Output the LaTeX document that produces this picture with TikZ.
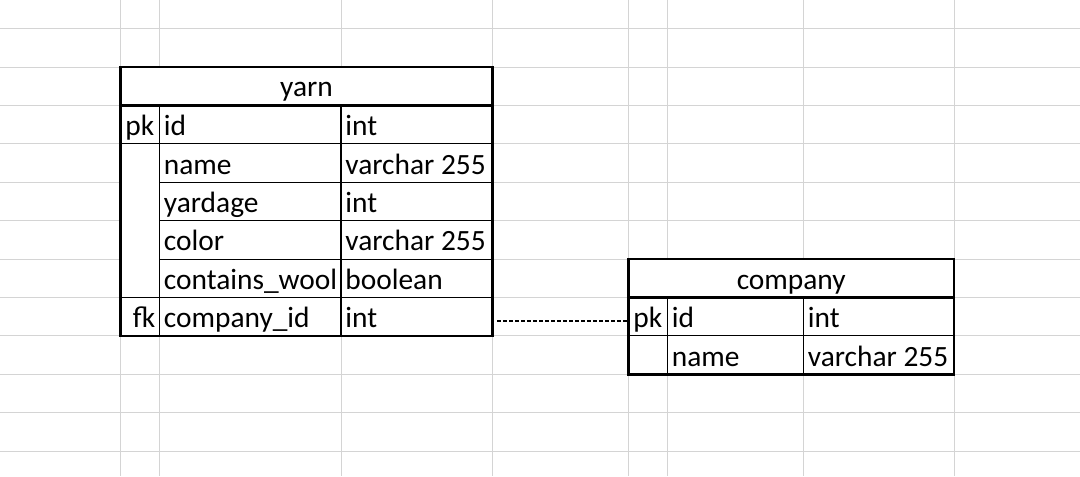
\documentclass[tikz,border=0pt]{standalone}
\usepackage{fontspec}
\setmainfont{Carlito}
\tikzset{
  gridline/.style={line width=0.5pt,draw=black!17},
  thinrule/.style={line width=0.55pt},
  thickrule/.style={line width=1.3pt},
  cell/.style={anchor=base west,inner sep=0pt,font=\fontsize{14.7}{16}\selectfont},
  title/.style={anchor=base,inner sep=0pt,font=\fontsize{14.7}{16}\selectfont},
  relation/.style={line width=0.85pt,dash pattern=on 2pt off 1pt}
}
\begin{document}
\begin{tikzpicture}[x=0.5pt,y=-0.5pt,line cap=butt,line join=miter]
\useasboundingbox (0,0) rectangle (1080,476);
\fill[white] (0,0) rectangle (1080,476);
% sheet grid
\foreach \gx in {120.5,159.8,341,492.4,628.5,667.4,803.4,954}
  \draw[gridline] (\gx,0) -- (\gx,476);
\foreach \k in {0,...,11}
  \draw[gridline] (0,28.7+38.4*\k) -- (1080,28.7+38.4*\k);

% yarn
\fill[white] (120.5,67.1) rectangle (492.4,335.9);
\draw[thinrule]
(159.8,105.5) -- (159.8,335.9)
(341,105.5) -- (341,335.9)
(120.5,143.9) -- (492.4,143.9)
(159.8,182.3) -- (492.4,182.3)
(159.8,220.7) -- (492.4,220.7)
(159.8,259.1) -- (492.4,259.1)
(120.5,297.5) -- (492.4,297.5);
\draw[thickrule] (120.5,67.1) rectangle (492.4,335.9)
(120.5,105.5) -- (492.4,105.5);
\node[title] (yarn) at (306.5,97) {yarn};
\foreach \fname/\ftype [count=\r] in {id/int,name/varchar 255,yardage/int,color/varchar 255,contains\_wool/boolean,company\_id/int}{
  \node[cell] (yarnname\r) at (163.5,135.6+38.4*\r-38.4) {\fname};
  \node[cell] (yarntype\r) at (345,135.6+38.4*\r-38.4) {\ftype};
}
\node[cell] (yarnpk) at (125,135.6) {pk};
\node[cell,anchor=base east] (yarnfk) at (155.5,327.6) {fk};

% company
\fill[white] (628.5,259.1) rectangle (954,374.3);
\draw[thinrule]
(667.4,297.5) -- (667.4,374.3)
(803.4,297.5) -- (803.4,374.3)
(628.5,335.9) -- (954,335.9);
\draw[thickrule] (628.5,259.1) rectangle (954,374.3)
(628.5,297.5) -- (954,297.5);
\node[title] (company) at (791.2,289.2) {company};
\node[cell] (companypk) at (633,327.6) {pk};
\node[cell] (companyname1) at (671.5,327.6) {id};
\node[cell] (companytype1) at (807.5,327.6) {int};
\node[cell] (companyname2) at (671.5,366) {name};
\node[cell] (companytype2) at (807.5,366) {varchar 255};

% fk -> pk
\coordinate (yarnout) at (497,320.7);
\coordinate (companyin) at (627,320.7);
\draw[relation] (yarnout) -- (companyin);
\end{tikzpicture}
\end{document}
